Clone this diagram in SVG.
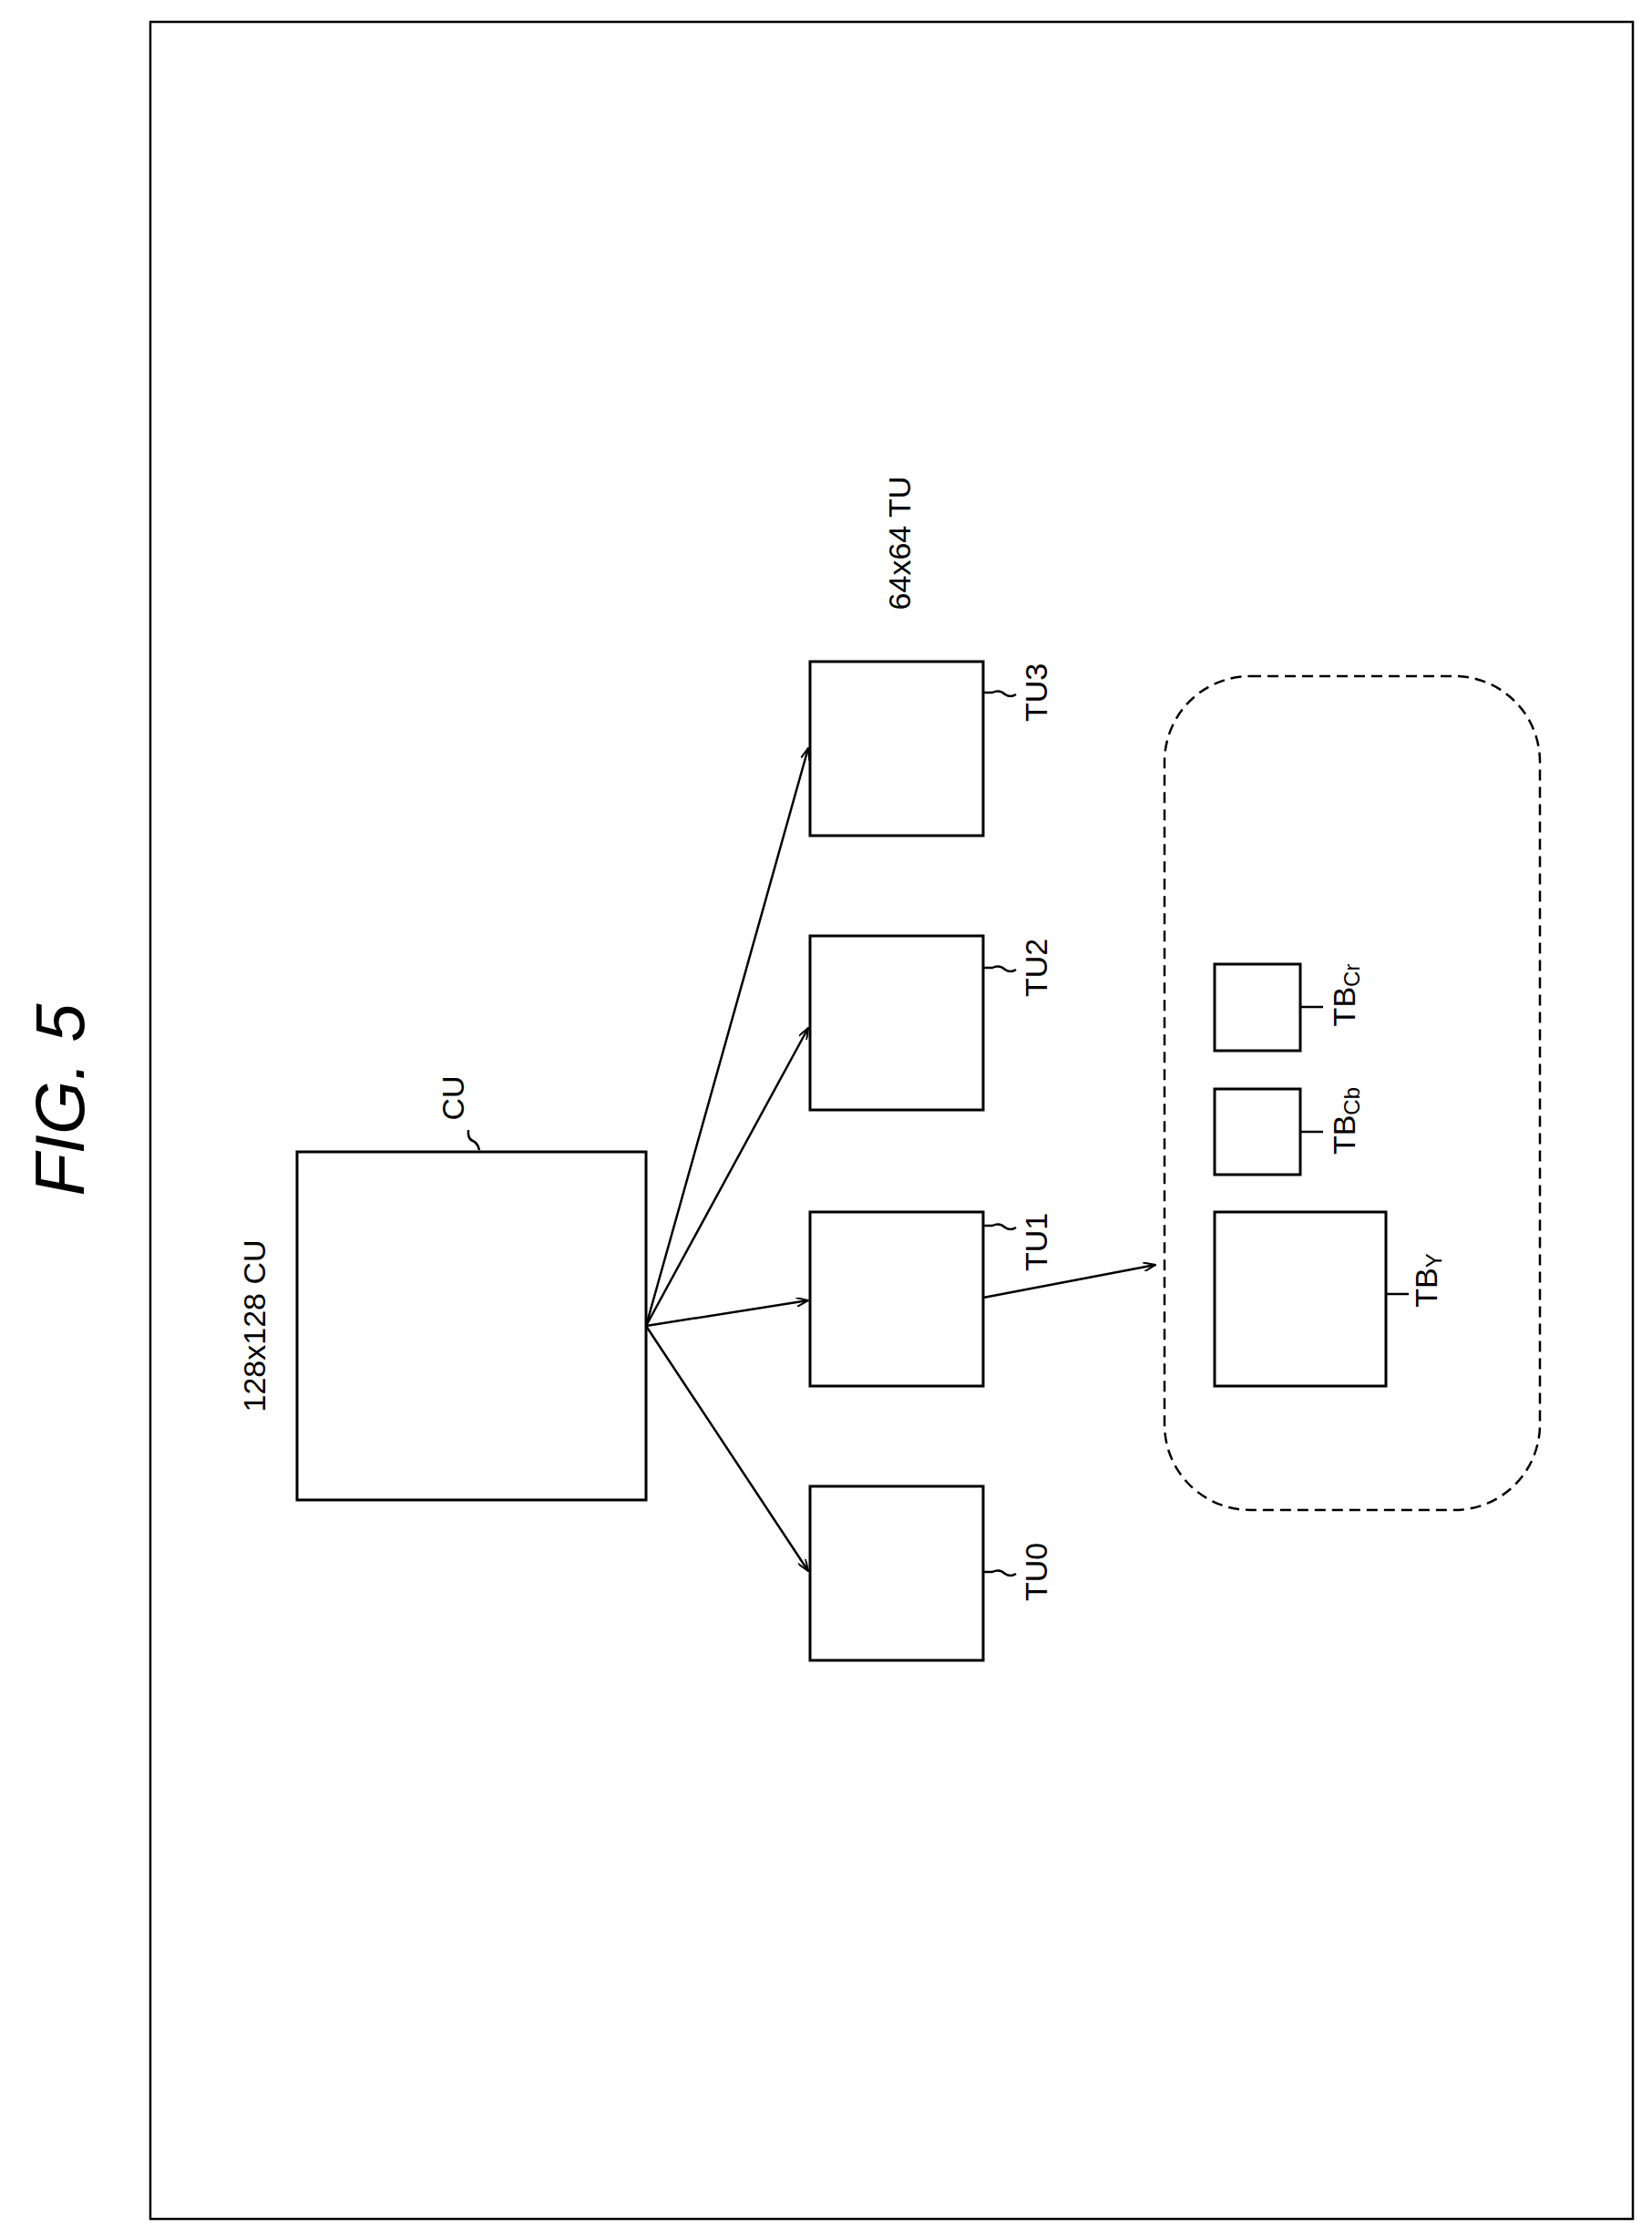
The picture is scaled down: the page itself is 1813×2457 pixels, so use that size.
<svg xmlns="http://www.w3.org/2000/svg" width="1813" height="2457" viewBox="0 0 1813 2457">
<style>
.b{fill:#fff;stroke:#000;stroke-width:3}
.l{fill:none;stroke:#000;stroke-width:2.5}
.t{font-family:"Liberation Sans",Arial,sans-serif;font-size:34px;text-anchor:middle;dominant-baseline:middle}
</style>
<defs><marker id="a" markerWidth="14" markerHeight="10" refX="13" refY="5" orient="auto" markerUnits="userSpaceOnUse"><path d="M0,0 L13,5 L0,10" fill="none" stroke="#000" stroke-width="2"/></marker></defs>
<rect x="0" y="0" width="1813" height="2457" fill="#fff"/>
<rect x="165" y="24" width="1627" height="2411" class="l" stroke-width="3"/>
<text class="t" style="font-size:76px;font-style:italic" transform="translate(72,1207) rotate(-90)">FIG. 5</text>
<g id="connectors">
<line class="l" x1="709" y1="1455" x2="887" y2="1724" marker-end="url(#a)"/>
<line class="l" x1="709" y1="1455" x2="887" y2="1427" marker-end="url(#a)"/>
<line class="l" x1="709" y1="1455" x2="887" y2="1128" marker-end="url(#a)"/>
<line class="l" x1="709" y1="1455" x2="887" y2="821" marker-end="url(#a)"/>
<line class="l" x1="1079" y1="1424" x2="1268" y2="1388" marker-end="url(#a)"/>
</g>
<g id="CU"><rect class="b" x="326" y="1264" width="383" height="382"/>
<text class="t" transform="translate(282,1455) rotate(-90)">128x128 CU</text>
<path class="l" d="M526,1262 q-2,-8 -7,-10 q-6,-2 -5,-12"/>
<text class="t" transform="translate(500,1205) rotate(-90)">CU</text></g>
<text class="t" transform="translate(990,596) rotate(-90)">64x64 TU</text>
<g id="TU0"><rect class="b" x="889" y="1631" width="190" height="191"/><path class="l" d="M1079,1725 h10 q8,-4 14,2 q6,4 12,0"/><text class="t" transform="translate(1140,1725) rotate(-90)">TU0</text></g>
<g id="TU1"><rect class="b" x="889" y="1330" width="190" height="191"/><path class="l" d="M1079,1345 h10 q8,-4 14,2 q6,4 12,0"/><text class="t" transform="translate(1140,1363) rotate(-90)">TU1</text></g>
<g id="TU2"><rect class="b" x="889" y="1027" width="190" height="191"/><path class="l" d="M1079,1062 h10 q8,-4 14,2 q6,4 12,0"/><text class="t" transform="translate(1140,1062) rotate(-90)">TU2</text></g>
<g id="TU3"><rect class="b" x="889" y="726" width="190" height="191"/><path class="l" d="M1079,760 h10 q8,-4 14,2 q6,4 12,0"/><text class="t" transform="translate(1140,760) rotate(-90)">TU3</text></g>
<g id="group"><rect x="1278" y="742" width="412" height="915" rx="94" fill="none" stroke="#000" stroke-width="2.5" stroke-dasharray="12,7"/></g>
<g id="TBY"><rect class="b" x="1333" y="1330" width="188" height="191"/><path class="l" d="M1521,1420 h25"/><text class="t" transform="translate(1568,1405) rotate(-90)">TB<tspan font-size="24" dy="8">Y</tspan></text></g>
<g id="TBCb"><rect class="b" x="1333" y="1195" width="94" height="94"/><path class="l" d="M1427,1242 h25"/><text class="t" transform="translate(1478,1230) rotate(-90)">TB<tspan font-size="24" dy="8">Cb</tspan></text></g>
<g id="TBCr"><rect class="b" x="1333" y="1058" width="94" height="95"/><path class="l" d="M1427,1105 h25"/><text class="t" transform="translate(1478,1092) rotate(-90)">TB<tspan font-size="24" dy="8">Cr</tspan></text></g>
</svg>
